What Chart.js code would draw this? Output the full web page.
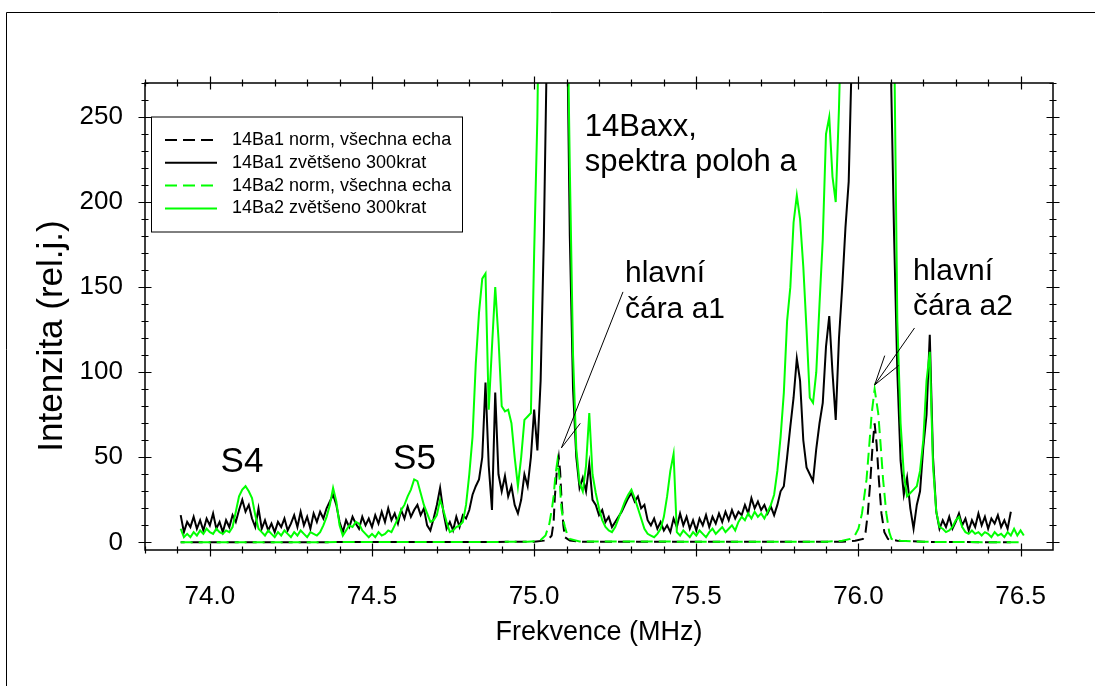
<!DOCTYPE html>
<html>
<head>
<meta charset="utf-8">
<script src="https://cdn.jsdelivr.net/npm/chart.js@4"></script>
<style>
  body { margin: 0; background: #fff; }
  canvas { display: block; }
</style>
</head>
<body>
<canvas id="spectrum" width="1095" height="686"></canvas>
<script>
// 300x zoomed spectra share one frequency grid (MHz)
const freqStart = 73.91;
const freqStep = 0.01;

// 14Ba1 zvětšeno 300krat (73.91 .. 76.47)
const ba1Zoom = [
  16, 6, 12, 9, 15, 8, 13, 7, 14, 10,
  17, 8, 12, 6, 13, 9, 16, 12, 19, 25,
  18, 22, 14, 9, 20, 8, 13, 7, 11, 6,
  12, 9, 14, 7, 11, 16, 9, 18, 10, 15,
  8, 17, 12, 18, 14, 20, 24, 28, 22, 12,
  6, 13, 9, 15, 11, 8, 15, 10, 14, 9,
  16, 11, 18, 12, 20, 13, 17, 11, 19, 14,
  21, 15, 19, 22, 16, 20, 10, 7, 14, 22,
  32, 18, 8, 12, 7, 15, 9, 16, 14, 19,
  28, 33, 37, 50, 94, 45, 19, 88, 40, 30,
  39, 27, 33, 22, 17, 25, 40, 33, 50, 78,
  54, 95, 180, 300, 700, 700, 700, 700, 700, 330,
  180, 90, 50, 32, 38, 30, 46, 25, 22, 16,
  19, 12, 15, 9, 12, 15, 18, 22, 26, 29,
  24, 27, 20, 22, 13, 10, 14, 8, 12, 7,
  10, 6, 14, 9, 17, 10, 15, 8, 13, 7,
  14, 10, 16, 9, 15, 11, 17, 12, 18, 13,
  19, 14, 18, 16, 22, 17, 26, 20, 24, 19,
  22, 17, 21, 16, 22, 30, 33, 50, 68, 85,
  108, 95, 60, 44, 40, 36, 55, 70, 82, 115,
  133, 100, 72, 120, 150, 185, 212, 290, 700, 700,
  700, 700, 700, 700, 700, 700, 700, 700, 700, 280,
  180, 100, 48, 28, 38, 20, 8, 22, 30, 56,
  75, 122, 50, 18, 8, 13, 9, 15, 8, 12,
  17, 10, 14, 7, 13, 9, 17, 10, 15, 8,
  14, 11, 16, 9, 13, 8, 18
];

// 14Ba2 zvětšeno 300krat (73.91 .. 76.51)
const ba2Zoom = [
  8, 3, 5, 3, 6, 4, 7, 5, 8, 6,
  5, 8, 6, 5, 7, 6, 9, 18, 27, 31,
  33, 30, 26, 16, 8, 6, 4, 7, 5, 3,
  6, 4, 7, 5, 3, 6, 4, 7, 5, 3,
  6, 5, 4, 6, 10, 15, 22, 32, 24, 10,
  4, 7, 10, 9, 12, 11, 7, 5, 3, 5,
  3, 6, 4, 5, 7, 6, 10, 14, 19, 22,
  27, 31, 37, 36, 29, 22, 17, 12, 13, 16,
  25, 19, 12, 6, 7, 9, 10, 12, 22, 40,
  62, 105, 135, 155, 158, 78, 115, 150, 120, 80,
  77, 78, 70, 50, 33, 50, 72, 74, 76, 170,
  250, 400, 700, 700, 700, 700, 700, 700, 700, 350,
  220, 110, 55, 35, 30, 45, 76, 40, 29, 20,
  13, 9, 7, 6, 9, 14, 19, 24, 28, 31,
  26, 20, 14, 8, 5, 4, 3, 5, 8, 15,
  27, 42, 52, 6, 4, 7, 5, 3, 6, 4,
  7, 5, 3, 6, 8, 5, 7, 9, 6, 8,
  10, 7, 12, 15, 13, 17, 14, 18, 15, 17,
  14, 18, 22, 28, 42, 62, 88, 130, 150, 188,
  204, 190, 162, 125, 85, 82, 100, 140, 178, 240,
  250, 215, 200, 255, 330, 700, 700, 700, 700, 700,
  700, 700, 700, 700, 700, 700, 700, 700, 700, 700,
  300, 130, 70, 40, 27, 29, 31, 33, 42, 60,
  95, 112, 45, 18, 9, 8, 6, 7, 9, 13,
  15, 9, 6, 5, 7, 5, 6, 4, 6, 5,
  3, 6, 4, 5, 3, 6, 4, 8, 4, 7,
  4
];

// 14Ba1 norm, všechna echa
const ba1NormFreq = [73.91, 75.0, 75.03, 75.045, 75.054, 75.06, 75.064, 75.07, 75.076, 75.08, 75.084, 75.09, 75.095, 75.11, 75.15,
  75.95, 75.99, 76.014, 76.022, 76.029, 76.037, 76.044, 76.05, 76.056, 76.063, 76.071, 76.08, 76.091, 76.12, 76.2, 76.47];
const ba1NormInt = [0, 0.3, 1, 2, 4, 12, 27, 42, 50, 42, 27, 10, 3, 1, 0.3,
  0.3, 1, 2, 6, 17, 37, 58, 70, 58, 37, 17, 6, 2, 1, 0.3, 0];

// 14Ba2 norm, všechna echa
const ba2NormFreq = [73.91, 74.98, 75.018, 75.035, 75.047, 75.055, 75.06, 75.066, 75.072, 75.078, 75.084, 75.09, 75.095, 75.103, 75.11, 75.14,
  75.9, 75.95, 75.975, 75.989, 76.0, 76.011, 76.025, 76.033, 76.041, 76.05, 76.061, 76.069, 76.076, 76.086, 76.095, 76.102, 76.13, 76.2, 76.51];
const ba2NormInt = [0, 0.3, 1, 4, 11, 20, 27, 40, 48, 38, 20, 13, 9, 4, 2, 0.5,
  0.3, 1, 2, 4, 8, 17, 37, 56, 76, 90, 76, 56, 37, 17, 6, 2, 1, 0.3, 0];

const xTicks = [74.0, 74.5, 75.0, 75.5, 76.0, 76.5];
const yTicks = [0, 50, 100, 150, 200, 250];
const seriesNames = ["14Ba1 norm, všechna echa", "14Ba1 zvětšeno 300krat",
  "14Ba2 norm, všechna echa", "14Ba2 zvětšeno 300krat"];
const yTitle = "Intenzita (rel.j.)";

const GREEN = "#00ff00";
const FONT = "'Liberation Sans', Arial, sans-serif";

function gridPoints(values) {
  return values.map((v, i) => ({ x: +(freqStart + i * freqStep).toFixed(2), y: v }));
}
function pairPoints(freqs, values) {
  return values.map((v, i) => ({ x: freqs[i], y: v }));
}

// text labels and arrows placed in data units
const notes = [
  { text: "S4", x: 74.033, y: 41.4, size: 35 },
  { text: "S5", x: 74.565, y: 43, size: 35 },
  { text: "14Baxx,", x: 75.156, y: 238.6, size: 31 },
  { text: "spektra poloh a", x: 75.156, y: 218, size: 31 },
  { text: "hlavní", x: 75.28, y: 153.3, size: 30 },
  { text: "čára a1", x: 75.28, y: 131.8, size: 30 },
  { text: "hlavní", x: 76.168, y: 154.3, size: 30 },
  { text: "čára a2", x: 76.168, y: 133.7, size: 30 },
];
const arrows = [
  { from: [75.274, 147.2], to: [75.084, 55.5], barbs: [1] },
  { from: [76.173, 126], to: [76.05, 92.5], barbs: [-1, 1] },
];

const datasets = [
  { label: seriesNames[1], data: gridPoints(ba1Zoom), borderColor: "#000", borderWidth: 2, order: 4 },
  { label: seriesNames[3], data: gridPoints(ba2Zoom), borderColor: GREEN, borderWidth: 2, order: 3 },
  { label: seriesNames[0], data: pairPoints(ba1NormFreq, ba1NormInt), borderColor: "#000", borderWidth: 2, borderDash: [12, 6], borderDashOffset: 8, order: 2 },
  { label: seriesNames[2], data: pairPoints(ba2NormFreq, ba2NormInt), borderColor: GREEN, borderWidth: 2, borderDash: [12, 6], order: 1 },
];
datasets.forEach((d) => { d.pointRadius = 0; d.tension = 0; d.fill = false; });

const framePlugin = {
  id: "framePlugin",
  afterDraw(chart) {
    const ctx = chart.ctx;
    const { left, right, top, bottom } = chart.chartArea;
    const xs = chart.scales.x, ys = chart.scales.y;
    const px = (v) => xs.getPixelForValue(v);
    const py = (v) => ys.getPixelForValue(v);
    ctx.save();

    // page frame (only top and left are inside the picture)
    ctx.strokeStyle = "#000";
    ctx.lineWidth = 1;
    ctx.beginPath();
    ctx.moveTo(6.5, 686);
    ctx.lineTo(6.5, 12.5);
    ctx.lineTo(1095, 12.5);
    ctx.stroke();

    // axes box
    ctx.lineWidth = 1.5;
    ctx.strokeRect(left, top, right - left, bottom - top);

    // ticks on all four sides, crossing the box
    ctx.lineWidth = 1.2;
    ctx.beginPath();
    for (let k = 0; k <= 27; k++) {
      const v = 73.8 + k * 0.1;
      const major = xTicks.some((t) => Math.abs(t - v) < 1e-6);
      const h = major ? 6.5 : 3.5;
      const x = Math.round(px(v)) + 0.5;
      ctx.moveTo(x, bottom - h); ctx.lineTo(x, bottom + h);
      ctx.moveTo(x, top - h); ctx.lineTo(x, top + h);
    }
    for (let v = 0; v <= 270; v += 10) {
      const major = yTicks.includes(v);
      const h = major ? 6.5 : 3.5;
      const y = Math.round(py(v)) + 0.5;
      ctx.moveTo(left - h, y); ctx.lineTo(left + h, y);
      ctx.moveTo(right - h, y); ctx.lineTo(right + h, y);
    }
    ctx.stroke();

    // y axis title (larger than the x title in the original)
    ctx.fillStyle = "#000";
    ctx.save();
    ctx.translate(62, 336);
    ctx.rotate(-Math.PI / 2);
    ctx.font = "35px " + FONT;
    ctx.textAlign = "center";
    ctx.textBaseline = "alphabetic";
    ctx.fillText(yTitle, 0, 0);
    ctx.restore();

    // annotations
    ctx.textAlign = "left";
    ctx.textBaseline = "alphabetic";
    notes.forEach((n) => {
      ctx.font = n.size + "px " + FONT;
      ctx.fillText(n.text, px(n.x), py(n.y));
    });
    ctx.lineWidth = 1;
    arrows.forEach((a) => {
      const x0 = px(a.from[0]), y0 = py(a.from[1]);
      const x1 = px(a.to[0]), y1 = py(a.to[1]);
      const ang = Math.atan2(y0 - y1, x0 - x1);
      ctx.beginPath();
      ctx.moveTo(x0, y0); ctx.lineTo(x1, y1);
      a.barbs.forEach((s) => {
        const b = ang + s * 0.28;
        ctx.moveTo(x1, y1);
        ctx.lineTo(x1 + 31 * Math.cos(b), y1 + 31 * Math.sin(b));
      });
      ctx.stroke();
    });

    // legend box
    const lx = left + 6, ly = top + 33.5;
    ctx.lineWidth = 1;
    ctx.strokeRect(lx + 0.5, ly + 0.5, 311, 115);
    const entries = [datasets[2], datasets[0], datasets[3], datasets[1]];
    ctx.font = "18px " + FONT;
    ctx.textBaseline = "middle";
    entries.forEach((d, i) => {
      const y = ly + 23.5 + i * 22.8;
      ctx.strokeStyle = d.borderColor;
      ctx.lineWidth = 2;
      ctx.setLineDash(d.borderDash || []);
      ctx.beginPath();
      ctx.moveTo(lx + 14, y); ctx.lineTo(lx + 66, y);
      ctx.stroke();
      ctx.setLineDash([]);
      ctx.fillStyle = "#000";
      ctx.fillText(d.label, lx + 81, y);
    });
    ctx.restore();
  },
};

new Chart(document.getElementById("spectrum"), {
  type: "line",
  data: { datasets },
  options: {
    responsive: false,
    devicePixelRatio: 1,
    animation: false,
    events: [],
    layout: { padding: { top: 83, right: 42, bottom: 0, left: 0 } },
    plugins: { legend: { display: false }, tooltip: { enabled: false } },
    scales: {
      x: {
        type: "linear",
        min: 73.8,
        max: 76.6,
        grid: { display: false, drawTicks: false },
        border: { display: false },
        afterBuildTicks: (scale) => { scale.ticks = xTicks.map((v) => ({ value: v })); },
        afterFit: (scale) => { scale.height = 136; },
        ticks: {
          padding: 31,
          color: "#000",
          font: { family: FONT, size: 26 },
          callback: (v) => Number(v).toFixed(1),
        },
        title: {
          display: true,
          text: "Frekvence (MHz)",
          color: "#000",
          font: { family: FONT, size: 27 },
          padding: { top: 0, bottom: 37 },
        },
      },
      y: {
        min: -4.5,
        max: 270,
        grid: { display: false, drawTicks: false },
        border: { display: false },
        afterBuildTicks: (scale) => { scale.ticks = yTicks.map((v) => ({ value: v })); },
        afterFit: (scale) => { scale.width = 145; },
        ticks: {
          padding: 22,
          color: "#000",
          font: { family: FONT, size: 26 },
        },
        title: { display: false },
      },
    },
  },
  plugins: [framePlugin],
});
</script>
</body>
</html>
